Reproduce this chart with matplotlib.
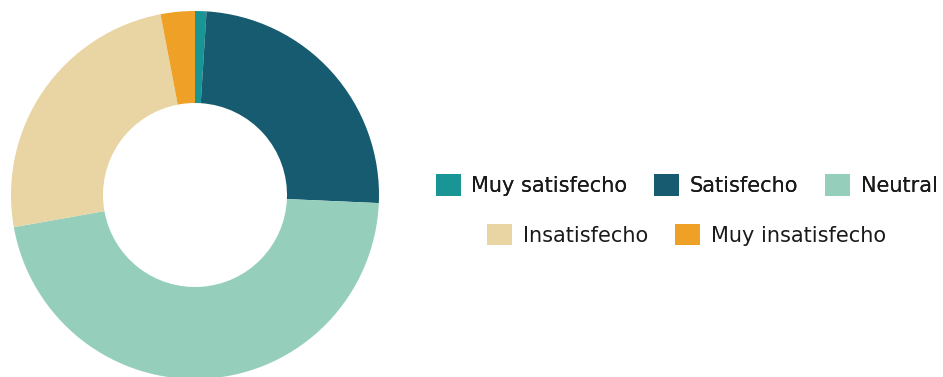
import matplotlib.pyplot as plt
from matplotlib.patches import Patch

# niveles de satisfacción (%)
categorias = ["Muy satisfecho", "Satisfecho", "Neutral", "Insatisfecho", "Muy insatisfecho"]
valores = [1.0, 24.7, 46.5, 24.8, 3.0]
colores = ["#199595", "#165b6f", "#95cfbb", "#e8d5a3", "#efa026"]

plt.rcParams['font.family'] = ['DejaVu Sans']

W, H = 943, 377
fig = plt.figure(figsize=(W / 100, H / 100), dpi=100)

# donut: centro (195,195) px, radio 184 px
cx, cy, r = 195, 195, 184
ax = fig.add_axes([(cx - r) / W, (H - cy - r) / H, 2 * r / W, 2 * r / H])
ax.pie(valores, colors=colores, startangle=90, counterclock=False,
       radius=1, wedgeprops=dict(width=0.5, linewidth=0))
ax.set_xlim(-1, 1)
ax.set_ylim(-1, 1)
ax.set_aspect('auto')
ax.axis('off')

handles = [Patch(facecolor=c, edgecolor='none') for c in colores]

opts = dict(frameon=False, fontsize=15, handlelength=1.2, handleheight=1.2,
            handletextpad=0.5, columnspacing=1.3, borderpad=0, borderaxespad=0,
            labelcolor='#1a1a1a')

leg1 = fig.legend(handles[:3], categorias[:3], ncol=3, loc='center',
                  bbox_to_anchor=(686.5 / W, 1 - 185 / H), **opts)
fig.add_artist(leg1)
fig.legend(handles[3:], categorias[3:], ncol=2, loc='center',
           bbox_to_anchor=(686.5 / W, 1 - 235 / H), **opts)

fig.savefig("out.png", dpi=100)
